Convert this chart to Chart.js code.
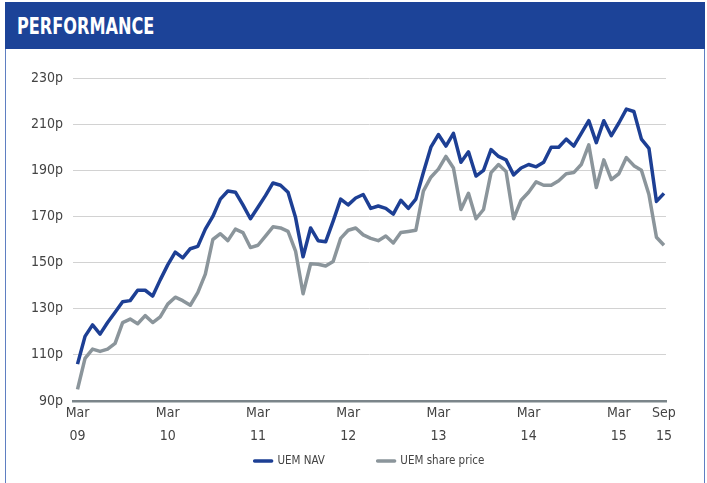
<!DOCTYPE html>
<html>
<head>
<meta charset="utf-8">
<script src="https://cdn.jsdelivr.net/npm/chart.js@4.4.1/dist/chart.umd.min.js"></script>
<style>
  body { margin: 0; background: #fff; }
  #header {
    position: absolute; left: 5px; top: 2px; width: 700px; height: 47px;
    background: #1c4398;
  }
  #header span {
    position: absolute; left: 12px; top: 11px;
    color: #fff; font: bold 23px 'DejaVu Sans Condensed', 'DejaVu Sans', sans-serif;
    font-stretch: condensed;
    transform: scaleX(0.78); transform-origin: left center;
    white-space: nowrap;
  }
  #box {
    position: absolute; left: 5px; top: 49px; width: 698px; height: 440px;
    border-left: 1.5px solid #5f7fc2; border-right: 1.5px solid #5f7fc2;
  }
  #perf { position: absolute; left: 0; top: 0; }
</style>
</head>
<body>
<div id="header"><span>PERFORMANCE</span></div>
<div id="box"></div>
<canvas id="perf" width="707" height="483"></canvas>
<script>
// month index 0 = Mar 09, 78 = Sep 15
const tickPos = [0, 12, 24, 36, 48, 60, 72, 78];
const tickMonth = ['Mar', 'Mar', 'Mar', 'Mar', 'Mar', 'Mar', 'Mar', 'Sep'];
const tickYear = ['09', '10', '11', '12', '13', '14', '15', '15'];

const navValues = [
  106, 118, 123, 119, 124, 128.5, 133, 133.5, 138, 138, 135.5, 142.5,
  149, 154.5, 152, 156, 157, 164.5, 170, 177.5, 181, 180.5, 175, 169,
  174, 179, 184.5, 183.5, 180.5, 169.5, 152.5, 165, 159.5, 159, 168, 177.5,
  175, 178, 179.5, 173.5, 174.5, 173.5, 171, 177, 173.5, 177.5, 189, 200,
  205.5, 200.5, 206, 193.5, 198, 187.5, 190, 199, 196, 194.5, 188, 191,
  192.5, 191.5, 193.5, 200, 200, 203.5, 200.5, 206, 211.5, 202, 211.5, 205,
  210.5, 216.5, 215.5, 203.5, 199.5, 176.5, 180
];
const shareValues = [
  95, 108.5, 112.5, 111.5, 112.5, 115, 124, 125.5, 123.5, 127, 124, 126.5,
  132, 135, 133.5, 131.5, 137, 145, 160, 162.5, 159.5, 164.5, 163, 156.5,
  157.5, 161.5, 165.5, 165, 163.5, 155, 136.5, 149.5, 149.3, 148.5, 150.5, 160.5,
  164, 165, 162, 160.5, 159.5, 161.5, 158.5, 163, 163.5, 164, 181, 187,
  190.5, 196, 191, 173, 180, 169, 173, 189, 192.5, 189.5, 169, 177,
  180.5, 185, 183.5, 183.5, 185.5, 188.5, 189, 192.5, 201, 182.5, 194.5, 186,
  188.5, 195.5, 192, 190, 179.5, 161, 157.5
];
const yTicks = [90, 110, 130, 150, 170, 190, 210, 230];

const FONT = "'DejaVu Sans Condensed', 'DejaVu Sans', sans-serif";

function toPoints(arr) {
  return arr.map((v, i) => ({ x: i, y: v }));
}

const ctx = document.getElementById('perf').getContext('2d');

new Chart(ctx, {
  type: 'line',
  data: {
    datasets: [{
      label: 'UEM NAV',
      data: toPoints(navValues),
      borderColor: '#1d3f94',
      backgroundColor: '#1d3f94',
      borderWidth: 3.5,
      pointRadius: 0,
      borderJoinStyle: 'round',
      tension: 0
    }, {
      label: 'UEM share price',
      data: toPoints(shareValues),
      borderColor: '#8b959b',
      backgroundColor: '#8b959b',
      borderWidth: 3.5,
      pointRadius: 0,
      borderJoinStyle: 'round',
      tension: 0
    }]
  },
  options: {
    responsive: false,
    animation: false,
    layout: { padding: { top: 78, left: 0, right: 41, bottom: 6.25 } },
    plugins: {
      tooltip: { enabled: false },
      legend: {
        position: 'bottom',
        fullSize: false,
        labels: {
          boxWidth: 17,
          boxHeight: 0,
          padding: 52.75,
          color: '#444',
          font: { family: FONT, size: 11.5 }
        }
      }
    },
    scales: {
      x: {
        type: 'linear',
        min: -0.6,
        max: 78.27,
        afterBuildTicks: (scale) => {
          scale.ticks = tickPos.map(v => ({ value: v }));
        },
        // axis box kept thin so the legend sits right under it;
        // mirrored labels are not clipped to the axis box
        afterFit: (scale) => { scale.height = 1.5; },
        grid: { display: false },
        border: { display: true, color: '#7b858a', width: 2.5 },
        ticks: {
          autoSkip: false,
          maxRotation: 0,
          mirror: true,
          padding: -23.5,
          color: '#444',
          font: { family: FONT, size: 14, lineHeight: 1.65 },
          callback: (value) => {
            const i = tickPos.indexOf(value);
            return i < 0 ? '' : [tickMonth[i], tickYear[i]];
          }
        }
      },
      y: {
        min: 90,
        max: 230,
        afterBuildTicks: (scale) => {
          scale.ticks = yTicks.map(v => ({ value: v }));
        },
        afterFit: (scale) => { scale.width = 73; },
        grid: { color: '#d2d2d2', lineWidth: 1, drawTicks: false },
        border: { display: false },
        ticks: {
          padding: 10,
          color: '#444',
          font: { family: FONT, size: 14 },
          callback: (value) => value + 'p'
        }
      }
    }
  }
});
</script>
</body>
</html>
